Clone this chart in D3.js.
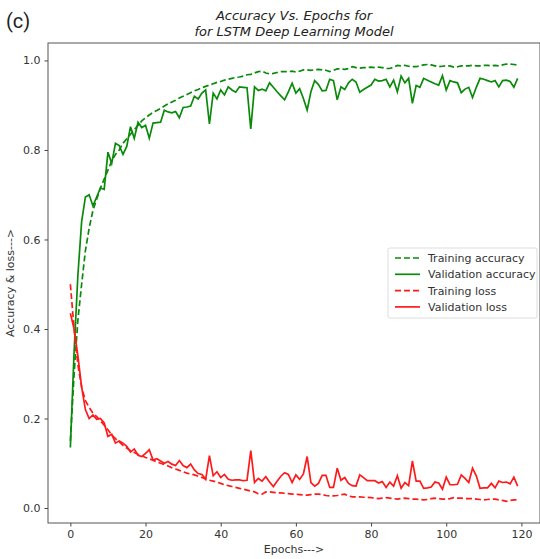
<!DOCTYPE html>
<html><head><meta charset="utf-8">
<script src="https://cdn.jsdelivr.net/npm/d3@7"></script>
<style>
html,body{margin:0;padding:0;background:#fff;}
svg{display:block;font-family:"DejaVu Sans",sans-serif;}
</style></head>
<body><svg id="chart" width="540" height="559"></svg>
<script>
const trainAcc = [0.15,0.30,0.42,0.50,0.575,0.625,0.665,0.69,0.715,0.735,0.755,0.775,0.79,0.80,0.815,0.825,0.835,0.845,0.855,0.865,
0.872,0.878,0.884,0.888,0.893,0.898,0.903,0.907,0.911,0.916,0.920,0.924,0.928,0.932,0.935,0.939,0.942,0.945,0.948,0.951,
0.953,0.956,0.958,0.960,0.962,0.963,0.965,0.968,0.969,0.972,0.975,0.976,0.972,0.970,0.971,0.973,0.975,0.975,0.975,0.976,
0.974,0.976,0.979,0.979,0.978,0.979,0.980,0.979,0.978,0.975,0.978,0.981,0.981,0.980,0.982,0.986,0.984,0.983,0.984,0.984,
0.985,0.984,0.985,0.984,0.982,0.982,0.985,0.989,0.988,0.989,0.987,0.986,0.986,0.988,0.990,0.991,0.990,0.988,0.986,0.987,
0.988,0.988,0.985,0.986,0.988,0.988,0.988,0.989,0.988,0.988,0.989,0.989,0.988,0.989,0.988,0.990,0.992,0.992,0.991,0.990];
const valAcc = [0.135,0.35,0.52,0.64,0.695,0.70,0.675,0.695,0.715,0.712,0.795,0.77,0.815,0.81,0.79,0.808,0.852,0.826,0.862,0.85,
0.855,0.826,0.86,0.861,0.862,0.889,0.885,0.883,0.886,0.872,0.895,0.896,0.898,0.92,0.914,0.927,0.934,0.858,0.927,0.914,
0.934,0.923,0.941,0.934,0.929,0.941,0.940,0.939,0.847,0.941,0.933,0.936,0.932,0.950,0.940,0.930,0.921,0.912,0.930,0.949,
0.927,0.937,0.915,0.889,0.930,0.955,0.946,0.932,0.933,0.958,0.955,0.912,0.941,0.935,0.950,0.958,0.952,0.929,0.935,0.940,
0.945,0.958,0.954,0.955,0.958,0.941,0.956,0.930,0.965,0.950,0.960,0.904,0.944,0.940,0.960,0.956,0.952,0.948,0.945,0.966,
0.934,0.955,0.952,0.950,0.928,0.936,0.940,0.917,0.940,0.960,0.958,0.955,0.952,0.955,0.941,0.955,0.956,0.953,0.940,0.960];
const trainLoss = [0.50,0.40,0.32,0.27,0.24,0.225,0.212,0.204,0.195,0.185,0.175,0.163,0.155,0.148,0.140,0.134,0.128,0.124,0.120,0.117,
0.113,0.110,0.107,0.103,0.100,0.097,0.094,0.090,0.087,0.084,0.081,0.078,0.076,0.074,0.071,0.068,0.065,0.062,0.060,0.058,
0.055,0.052,0.050,0.048,0.046,0.044,0.042,0.040,0.038,0.036,0.032,0.031,0.036,0.036,0.035,0.034,0.034,0.033,0.032,0.031,
0.031,0.030,0.029,0.029,0.030,0.031,0.031,0.030,0.028,0.027,0.027,0.028,0.030,0.031,0.027,0.025,0.025,0.025,0.024,0.024,
0.023,0.022,0.021,0.022,0.023,0.022,0.021,0.020,0.021,0.022,0.021,0.020,0.020,0.019,0.018,0.019,0.021,0.022,0.021,0.020,
0.020,0.021,0.023,0.022,0.022,0.021,0.021,0.021,0.020,0.019,0.018,0.019,0.020,0.020,0.018,0.017,0.015,0.017,0.018,0.018];
const valLoss = [0.435,0.40,0.34,0.27,0.22,0.20,0.208,0.198,0.20,0.19,0.16,0.165,0.145,0.15,0.145,0.138,0.125,0.132,0.118,0.115,
0.122,0.130,0.107,0.110,0.105,0.100,0.104,0.098,0.095,0.106,0.095,0.090,0.098,0.085,0.077,0.075,0.064,0.117,0.072,0.081,
0.068,0.075,0.064,0.062,0.063,0.063,0.061,0.062,0.128,0.057,0.066,0.060,0.070,0.058,0.048,0.060,0.071,0.079,0.075,0.057,
0.074,0.064,0.076,0.115,0.057,0.049,0.055,0.073,0.073,0.046,0.046,0.089,0.062,0.068,0.055,0.050,0.049,0.074,0.068,0.061,
0.061,0.061,0.056,0.059,0.046,0.058,0.049,0.072,0.044,0.057,0.050,0.105,0.060,0.060,0.044,0.045,0.047,0.058,0.056,0.042,
0.069,0.052,0.052,0.053,0.074,0.066,0.057,0.089,0.072,0.044,0.045,0.045,0.055,0.045,0.060,0.057,0.058,0.054,0.069,0.049];
const xTicks = [0,20,40,60,80,100,120];
const yTicks = [0.0,0.2,0.4,0.6,0.8,1.0];
const seriesNames = ["Training accuracy","Validation accuracy","Training loss","Validation loss"];

const svg = d3.select("#chart");
const L=48, R=540, T=43, B=523;
const epochs = d3.range(trainAcc.length);
const x = d3.scaleLinear().domain([-5.95,124.95]).range([L,R]);
const y = d3.scaleLinear().domain([-0.0335,1.039]).range([B,T]);
const textCol = "#333";

// axes
const xAxis = svg.append("g").attr("transform",`translate(0,${B})`)
  .call(d3.axisBottom(x).tickValues(xTicks).tickSize(3.5).tickPadding(4).tickFormat(d3.format("d")));
const yAxis = svg.append("g").attr("transform",`translate(${L},0)`)
  .call(d3.axisLeft(y).tickValues(yTicks).tickSize(3.5).tickPadding(4).tickFormat(d3.format(".1f")));
[xAxis,yAxis].forEach(a=>{
  a.select(".domain").remove();
  a.selectAll("line").attr("stroke","#444");
  a.selectAll("text").attr("fill",textCol).style("font-size","11px").style("font-family","DejaVu Sans, sans-serif");
});
svg.append("rect").attr("x",L).attr("y",T).attr("width",R-L).attr("height",B-T)
  .attr("fill","none").attr("stroke","#555").attr("stroke-width",1);

const line = arr => d3.line().x((d,i)=>x(i)).y(d=>y(d))(arr);
const specs = [
  {data:trainAcc,color:"#0a8a0a",dash:"6,3"},
  {data:valAcc,color:"#0a8a0a",dash:null},
  {data:trainLoss,color:"#ff1a1a",dash:"6,3"},
  {data:valLoss,color:"#ff1a1a",dash:null}
];
specs.forEach(s=>{
  svg.append("path").attr("d",line(s.data)).attr("fill","none")
    .attr("stroke",s.color).attr("stroke-width",1.7)
    .attr("stroke-dasharray",s.dash);
});

// legend
const lg = svg.append("g").attr("transform","translate(388,248)");
lg.append("rect").attr("width",149).attr("height",70).attr("rx",2)
  .attr("fill","#fff").attr("stroke","#ddd");
seriesNames.forEach((n,i)=>{
  const yy = 10+i*16.3;
  lg.append("line").attr("x1",7).attr("x2",32).attr("y1",yy).attr("y2",yy)
    .attr("stroke",specs[i].color).attr("stroke-width",1.7).attr("stroke-dasharray",specs[i].dash);
  lg.append("text").attr("x",40).attr("y",yy+4).text(n)
    .attr("fill",textCol).style("font-size","11px");
});

// titles
svg.append("text").attr("x",294).attr("y",20).attr("text-anchor","middle")
  .style("font-size","13px").style("font-style","italic").attr("fill","#222").text("Accuracy Vs. Epochs for");
svg.append("text").attr("x",294).attr("y",36).attr("text-anchor","middle")
  .style("font-size","13px").style("font-style","italic").attr("fill","#222").text("for LSTM Deep Learning Model");
svg.append("text").attr("x",6).attr("y",28)
  .style("font-size","20px").style("font-family","Roboto, sans-serif").attr("fill","#222").text("(c)");
svg.append("text").attr("x",294).attr("y",553).attr("text-anchor","middle")
  .style("font-size","11px").attr("fill",textCol).text("Epochs--->");
svg.append("text").attr("transform","translate(14,283) rotate(-90)").attr("text-anchor","middle")
  .style("font-size","11px").attr("fill",textCol).text("Accuracy & loss--->");
</script></body></html>
